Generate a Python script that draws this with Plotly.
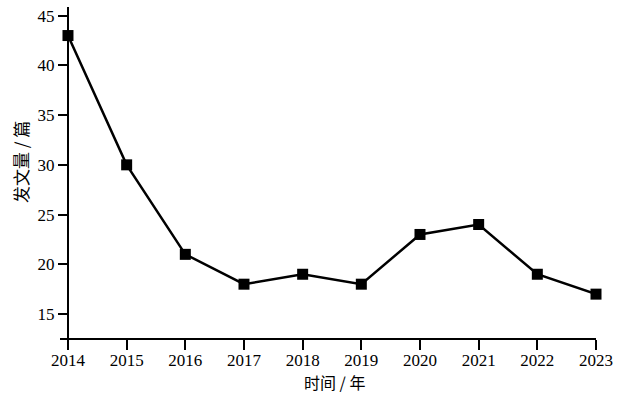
import plotly.graph_objects as go

years = [2014, 2015, 2016, 2017, 2018, 2019, 2020, 2021, 2022, 2023]
counts = [43, 30, 21, 18, 19, 18, 23, 24, 19, 17]
y_ticks = [15, 20, 25, 30, 35, 40, 45]
x_title = "时间 / 年"
y_title = "发文量 / 篇"

x_lo, x_hi = 2013.864, 2023.0
y_lo, y_hi = 12.59, 45.87

fig = go.Figure()
fig.add_trace(go.Scatter(
    x=years, y=counts, mode="lines+markers",
    line=dict(color="black", width=2.5),
    marker=dict(symbol="square", size=11, color="black"),
    cliponaxis=False, showlegend=False,
))

tick_font = dict(family="Liberation Serif, Times New Roman, serif", size=17, color="black")
title_font = dict(family="Noto Sans CJK SC", size=17, color="black")
xtitle_font = dict(family="Noto Sans CJK SC", size=16, color="black")

W, H = 618, 393
ML, MR, MT, MB = 60, 22, 7, 55
PW, PH = W - ML - MR, H - MT - MB

fig.update_layout(
    width=W, height=H,
    margin=dict(l=ML, r=MR, t=MT, b=MB),
    paper_bgcolor="white", plot_bgcolor="white",
    xaxis=dict(
        range=[x_lo, x_hi], tickmode="array", tickvals=years,
        ticktext=[str(y) for y in years],
        showline=True, linecolor="black", linewidth=2,
        ticks="outside", ticklen=10, tickwidth=2, tickcolor="black",
        ticklabelstandoff=-4,
        showgrid=False, zeroline=False, tickfont=tick_font,
        automargin=False,
    ),
    yaxis=dict(
        range=[y_lo, y_hi], tickmode="array", tickvals=y_ticks,
        anchor="free", position=(2014 - x_lo) / (x_hi - x_lo),
        showline=True, linecolor="black", linewidth=2,
        ticks="outside", ticklen=9, tickwidth=2, tickcolor="black",
        showgrid=False, zeroline=False, tickfont=tick_font,
        automargin=False,
    ),
    annotations=[
        dict(text=x_title, font=xtitle_font, showarrow=False,
             xref="paper", yref="paper",
             x=(334 - ML) / PW, y=-(382 - (H - MB)) / PH,
             xanchor="center", yanchor="middle", borderpad=0),
        dict(text=y_title, font=title_font, showarrow=False, textangle=-90,
             xref="paper", yref="paper",
             x=(20 - ML) / PW, y=((H - MB) - 162) / PH,
             xanchor="center", yanchor="middle"),
    ],
)

fig.write_html("out.html", config={"displayModeBar": False},
               post_script="document.body.style.margin='0px';")
